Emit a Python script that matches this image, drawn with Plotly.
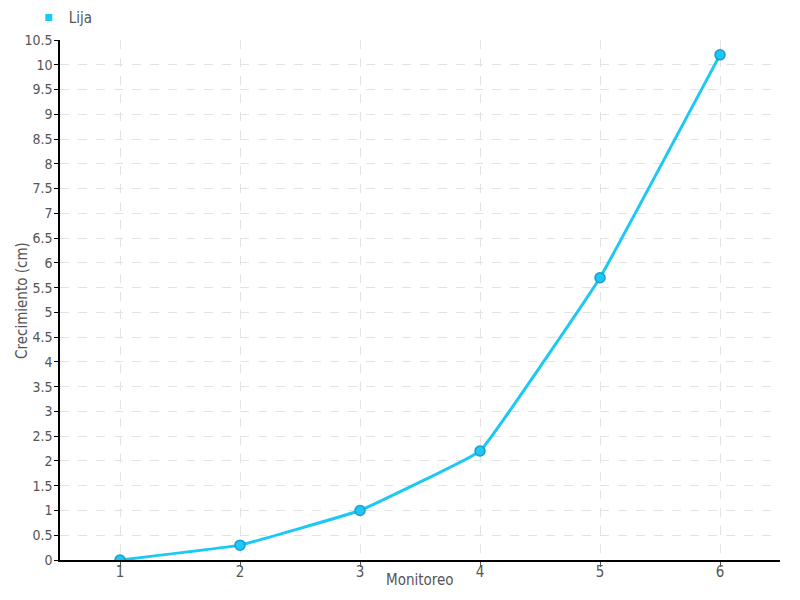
import plotly.graph_objects as go

monitoreo = [1, 2, 3, 4, 5, 6]
crecimiento = [0, 0.3, 1.0, 2.2, 5.7, 10.2]
serie = "Lija"
x_title = "Monitoreo"
y_title = "Crecimiento (cm)"
y_ticks = [i * 0.5 for i in range(22)]
y_labels = [("%g" % v) for v in y_ticks]

FONT = "Liberation Sans Narrow, DejaVu Sans Condensed, sans-serif"
cyan = "#1cc8f5"

fig = go.Figure()
fig.add_trace(go.Scatter(
    x=monitoreo, y=crecimiento, mode="lines+markers", name=serie,
    line=dict(color=cyan, width=3, shape="spline", smoothing=0.2),
    marker=dict(size=10, color=cyan, line=dict(color="#1a9ccc", width=1.5)),
    showlegend=False,
))
fig.add_trace(go.Scatter(
    x=[None], y=[None], mode="markers", name=serie,
    marker=dict(symbol="square", size=7, color=cyan),
))

fig.update_layout(
    width=800, height=600,
    margin=dict(l=60, r=20, t=40, b=40),
    paper_bgcolor="white", plot_bgcolor="white",
    font=dict(family=FONT, size=14, color="#555"),
    legend=dict(x=0.036, y=0.998, xref="container", yref="container",
                xanchor="left", yanchor="top", bgcolor="rgba(0,0,0,0)",
                orientation="h", font=dict(size=15, color="#555"),
                itemwidth=30),
    xaxis=dict(
        range=[0.5, 6.5], tickmode="array", tickvals=monitoreo,
        ticktext=[str(m) for m in monitoreo],
        showgrid=True, gridcolor="#e3e3e3", griddash="dash",
        showline=True, linecolor="black", linewidth=1.5,
        ticks="outside", ticklen=5, tickcolor="#555",
        zeroline=False, automargin=False, ticklabelstandoff=-8,
        tickfont=dict(size=15, color="#555"),
    ),
    yaxis=dict(
        range=[0, 10.5], tickmode="array", tickvals=y_ticks, ticktext=y_labels,
        showgrid=True, gridcolor="#e3e3e3", griddash="dash",
        showline=True, linecolor="black", linewidth=1.5,
        ticks="outside", ticklen=4, tickcolor="black",
        zeroline=False, automargin=False, ticklabelstandoff=-1,
        tickfont=dict(size=14, color="#555"),
    ),
    annotations=[
        dict(text=x_title, xref="paper", yref="paper", x=0.5, y=-0.0385,
             xanchor="center", yanchor="middle", showarrow=False,
             font=dict(size=15, color="#555")),
        dict(text=y_title, xref="paper", yref="paper", x=-0.0528, y=0.5,
             xanchor="center", yanchor="middle", textangle=-90, showarrow=False,
             font=dict(size=15, color="#555")),
    ],
)

fig.write_html("out.html", config={"displayModeBar": False},
               post_script="document.body.style.margin='0';")
